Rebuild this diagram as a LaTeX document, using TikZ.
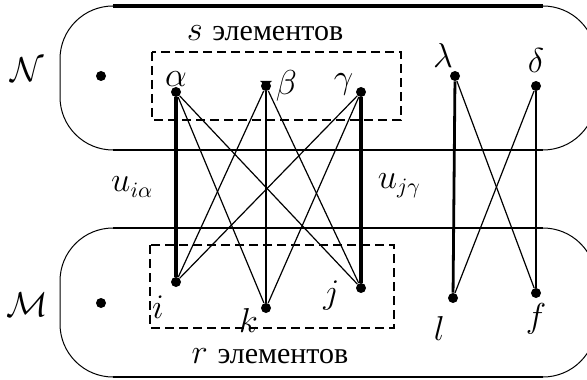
\documentclass[tikz,border=0pt]{standalone}
\usepackage{amsmath,amssymb}
\usepackage{fontspec}
\newfontfamily\cyrfont{Liberation Serif}
\usetikzlibrary{positioning}

\tikzset{
  dot/.style={circle,fill,inner sep=0pt,minimum size=5pt},
  every label/.style={inner sep=1pt},
  rim/.style={line width=0.5pt,rounded corners=26.5pt},
  border/.style={line width=1.3pt},
  dashbox/.style={line width=1.2pt,dash pattern=on 4.5pt off 2.5pt},
  mainline/.style={line width=2.2pt},
  midline/.style={line width=1.4pt},
  crossline/.style={line width=0.6pt},
  settext/.style={inner sep=1pt}
}

\begin{document}
\begin{tikzpicture}[x=0.5pt,y=-0.5pt,font=\fontsize{16}{19}\selectfont]
    \useasboundingbox (0,0) rectangle (587,379);
    \clip (0,0) rectangle (587,379);

    % the two sets
    \draw[rim] (113,6) -| (60,150) -- (113,150);
    \draw[rim] (543,6) -| (596,150) -- (543,150);
    \draw[border,line width=1.7pt] (113,6) -- (543,6);
    \draw[border] (113,150) -- (543,150);
    \draw[rim] (113,228) -| (60,377) -- (113,377);
    \draw[rim] (543,228) -| (596,377) -- (543,377);
    \draw[border] (113,228) -- (543,228);
    \draw[border] (113,377) -- (543,377);

    \draw[dashbox] (152,52) rectangle (401,120);
    \draw[dashbox] (150,245) rectangle (394,328);

    \node (nname) at (27,70) {$\mathcal{N}$};
    \node (mname) at (27,305) {$\mathcal{M}$};
    \node[settext] (stext) at (265,33) {$s$ {\cyrfont\fontsize{15}{18}\selectfont элементов}};
    \node[settext] (rtext) at (270,356) {$r$ {\cyrfont\fontsize{15}{18}\selectfont элементов}};

    \node[dot] (ndot) at (101,76) {};
    \node[dot] (mdot) at (101,303) {};
    \node[dot,label={[label distance=-1pt]above:$\alpha$}] (alpha) at (176,92) {};
    \node[dot,label={[label distance=1pt]right:$\beta$}] (beta) at (266,86) {};
    \node[dot,label={[yshift=4pt]left:$\gamma$}] (gamma) at (361,92) {};
    \node[dot,label={[xshift=2pt,yshift=1pt]above left:$\lambda$}] (lambda) at (455,76) {};
    \node[dot,label={[yshift=3pt]above:$\delta$}] (delta) at (536,86) {};
    \node[dot,label={[xshift=-3pt,yshift=-4pt]below left:$i$}] (i) at (176,282) {};
    \node[dot,label={[xshift=-1pt,yshift=3pt]below left:$k$}] (k) at (266,308) {};
    \node[dot,label={[xshift=-7pt,yshift=-4pt]left:$j$}] (j) at (361,288) {};
    \node[dot,label={[xshift=-1pt,yshift=-6pt]below left:$l$}] (l) at (453,298) {};
    \node[dot,label={[yshift=-1.5pt]below:$f$}] (f) at (536,293) {};
    \fill ([shift={(-6,-5)}]beta.center) -- ([shift={(6,-5)}]beta.center) -- (beta.center) -- cycle;

    \path[crossline]
    (alpha) edge (k) edge (j)
    (beta) edge (i) edge (j)
    (gamma) edge (i) edge (k)
    (lambda) edge (f)
    (delta) edge (l);
    \path
    (alpha) edge[mainline] node[left=7pt] {$u_{i\alpha}$} (i)
    (gamma) edge[mainline] node[right=4pt,yshift=2pt] {$u_{j\gamma}$} (j)
    (beta) edge[midline] (k)
    (lambda) edge[midline] (l)
    (delta) edge[midline] (f);
\end{tikzpicture}
\end{document}
